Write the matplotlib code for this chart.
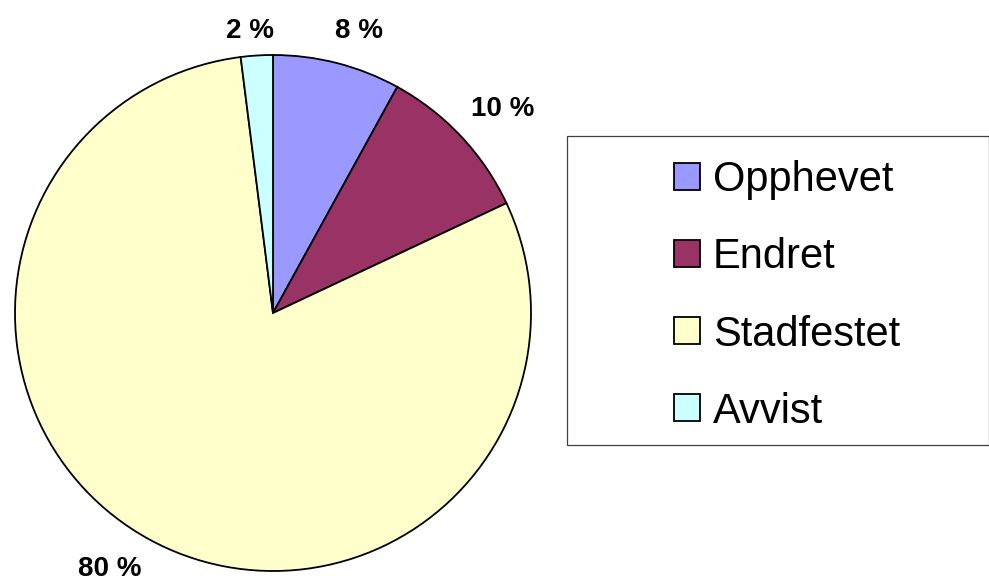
import numpy as np
import matplotlib.pyplot as plt
from matplotlib.patches import Rectangle

plt.rcParams['font.family'] = ['Liberation Sans', 'DejaVu Sans']

# data
categories = ["Opphevet", "Endret", "Stadfestet", "Avvist"]
shares = [8, 10, 80, 2]
colors = ["#9999FF", "#993366", "#FFFFCC", "#CCFFFF"]

# label placement relative to each wedge (radius factor, angle shift in deg)
label_dist = [1.143, 1.19, 1.178, 1.097]
label_shift = [-2.6, -1.6, -3.8, 1.1]

fig = plt.figure(figsize=(9.89, 5.85), dpi=100)
ax = fig.add_axes([0, 0, 1, 1])

center = (273, 272)
radius = 258

# pie, clockwise from the top like Excel
wedges, texts, autotexts = ax.pie(
    shares, colors=colors, startangle=90, counterclock=False,
    center=center, radius=radius,
    autopct=lambda p: "%.0f %%" % p, pctdistance=1.155,
    wedgeprops=dict(edgecolor="black", linewidth=1.3),
    textprops=dict(fontsize=20, fontweight="bold"),
)

# move the percent labels like Excel does
for w, t, d, s in zip(wedges, autotexts, label_dist, label_shift):
    ang = np.deg2rad((w.theta1 + w.theta2) / 2 + s)
    t.set_position((center[0] + d * radius * np.cos(ang),
                    center[1] + d * radius * np.sin(ang)))

ax.set_xlim(0, 989)
ax.set_ylim(0, 585)
ax.set_aspect("equal")
ax.axis("off")

# legend box
fig.patches.append(Rectangle((567 / 989, 140 / 585), 422 / 989, 309 / 585,
                             transform=fig.transFigure, facecolor="white",
                             edgecolor="#404040", linewidth=0.9, zorder=0))

leg = fig.legend(wedges, categories, loc="center",
                 bbox_to_anchor=(787 / 989, 289 / 585),
                 frameon=False, fontsize=30, labelspacing=0.89,
                 handlelength=0.62, handleheight=0.62, handletextpad=0.3)
for h in leg.legend_handles:
    h.set_edgecolor("black")
    h.set_linewidth(1.3)

plt.savefig("out.png", dpi=100)
